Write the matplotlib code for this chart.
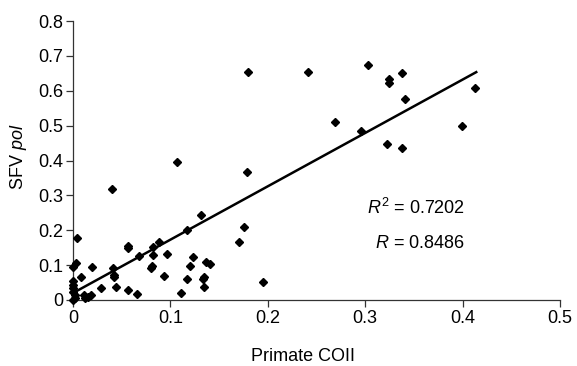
import matplotlib
matplotlib.use("Agg")
import matplotlib.pyplot as plt
import numpy as np

plt.rcParams['font.family'] = ['Liberation Sans', 'DejaVu Sans']
plt.rcParams['mathtext.fontset'] = 'custom'
plt.rcParams['mathtext.rm'] = 'Liberation Sans'
plt.rcParams['mathtext.it'] = 'Liberation Sans:italic'

primate_coii = [0.000, 0.002, 0.002, 0.000, 0.000, 0.000, 0.000, 0.000, 0.003, 0.004,
                0.008, 0.011, 0.012, 0.015, 0.018, 0.019, 0.029, 0.040, 0.041, 0.042,
                0.042, 0.044, 0.056, 0.056, 0.056, 0.066, 0.068, 0.080, 0.081, 0.082,
                0.082, 0.088, 0.093, 0.096, 0.107, 0.111, 0.117, 0.117, 0.120, 0.123,
                0.131, 0.133, 0.134, 0.135, 0.137, 0.141, 0.170, 0.176, 0.179, 0.180,
                0.195, 0.241, 0.269, 0.296, 0.303, 0.322, 0.324, 0.324, 0.338, 0.338,
                0.341, 0.399, 0.413]
sfv_pol = [0.000, 0.005, 0.014, 0.024, 0.033, 0.043, 0.055, 0.094, 0.105, 0.177,
           0.066, 0.014, 0.005, 0.010, 0.014, 0.095, 0.033, 0.317, 0.092, 0.072,
           0.065, 0.036, 0.155, 0.150, 0.030, 0.018, 0.126, 0.092, 0.098, 0.129,
           0.151, 0.166, 0.070, 0.131, 0.395, 0.021, 0.200, 0.059, 0.098, 0.124,
           0.244, 0.061, 0.036, 0.066, 0.110, 0.103, 0.166, 0.210, 0.366, 0.654,
           0.051, 0.654, 0.510, 0.484, 0.673, 0.447, 0.633, 0.621, 0.651, 0.436,
           0.576, 0.499, 0.607]
fit_slope = 1.53
fit_intercept = 0.02
fit_range = [0.0, 0.414]
x_ticks = [0, 0.1, 0.2, 0.3, 0.4, 0.5]
x_tick_labels = ['0', '0.1', '0.2', '0.3', '0.4', '0.5']
y_ticks = [0, 0.1, 0.2, 0.3, 0.4, 0.5, 0.6, 0.7, 0.8]
y_tick_labels = ['0', '0.1', '0.2', '0.3', '0.4', '0.5', '0.6', '0.7', '0.8']

FS = 13

fig = plt.figure(figsize=(5.77, 3.66), dpi=100)
ax = fig.add_axes([73/577, 66/366, (560-73)/577, (300-21)/366])

ax.plot(primate_coii, sfv_pol, linestyle='none', marker='D', markersize=4.2,
        color='black', clip_on=False, zorder=3)
xf = np.array(fit_range)
ax.plot(xf, fit_slope * xf + fit_intercept, color='black', linewidth=1.8, zorder=2)

ax.set_xlim(0, 0.5)
ax.set_ylim(0, 0.8)
ax.set_xticks(x_ticks)
ax.set_xticklabels(x_tick_labels)
ax.set_yticks(y_ticks)
ax.set_yticklabels(y_tick_labels)
for s in ['top', 'right']:
    ax.spines[s].set_visible(False)
for s in ['left', 'bottom']:
    ax.spines[s].set_linewidth(0.9)
    ax.spines[s].set_color('#333333')
ax.tick_params(direction='out', length=5, width=0.9, labelsize=FS, color='#333333', pad=2)

ax.set_xlabel('Primate COII', fontsize=FS)
ax.xaxis.set_label_coords(0.473, -0.172)
ax.set_ylabel(r'SFV $\it{pol}$', fontsize=FS)
ax.yaxis.set_label_coords((29-73)/487, 0.513)

ax.text(0.4025, 0.263, r'$R^2$ = 0.7202', fontsize=FS, ha='right', va='center')
ax.text(0.4025, 0.163, r'$R$ = 0.8486', fontsize=FS, ha='right', va='center')

fig.savefig('out.png', dpi=100)
